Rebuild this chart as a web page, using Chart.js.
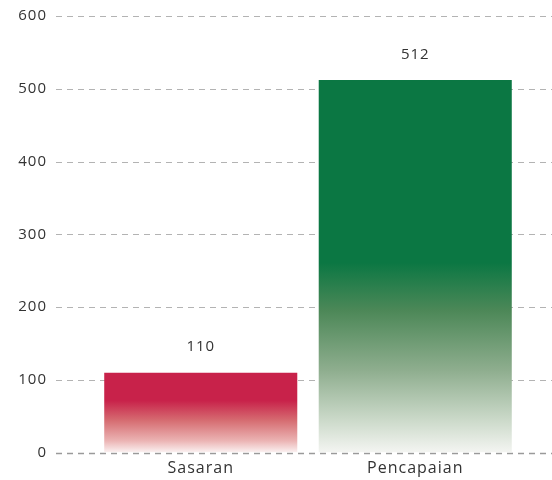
<!DOCTYPE html>
<html>
<head>
<meta charset="utf-8">
<script src="https://cdn.jsdelivr.net/npm/chart.js@4.4.0/dist/chart.umd.min.js"></script>
<style>
  html, body { margin: 0; padding: 0; background: #fff; overflow: hidden; }
  #wrap { position: relative; width: 552px; height: 480px; }
</style>
</head>
<body>
<div id="wrap"><canvas id="c"></canvas></div>
<script>
const categories = ["Sasaran", "Pencapaian"];
const values = [110, 512];
const yMin = 0, yMax = 600, yStep = 100;

const FONT = "'Open Sans', sans-serif";
const TEXT = "#333333";
const SPACING = "1px";

// gradient stop definitions (fraction from bar top to bar bottom)
const gradStops = [
  [[0, "#c8224a"], [0.35, "#c8224a"], [0.6, "#d66d72"], [0.85, "#ebb3b3"], [1, "#fbf3f3"]],
  [[0, "#0b7743"], [0.49, "#0b7743"], [0.62, "#4d8858"], [0.78, "#8fae8f"], [0.92, "#cfdccd"], [1, "#f4f5f2"]]
];

function barGradient(context) {
  const chart = context.chart;
  const ys = chart.scales.y;
  if (!ys || !chart.chartArea) return gradStops[context.dataIndex][0][1];
  const v = context.raw;
  const top = ys.getPixelForValue(v);
  const bottom = ys.getPixelForValue(0);
  const g = chart.ctx.createLinearGradient(0, top, 0, bottom);
  gradStops[context.dataIndex].forEach(s => g.addColorStop(s[0], s[1]));
  return g;
}

const spacingPlugin = {
  id: "spacing",
  beforeLayout(chart) { chart.ctx.letterSpacing = SPACING; },
  beforeDraw(chart) { chart.ctx.letterSpacing = SPACING; }
};

const gridPlugin = {
  id: "fullGrid",
  beforeDatasetsDraw(chart) {
    const ys = chart.scales.y;
    const ctx = chart.ctx;
    ctx.save();
    for (let v = yMin; v <= yMax; v += yStep) {
      const py = Math.round(ys.getPixelForValue(v)) + 0.5;
      ctx.beginPath();
      ctx.setLineDash([6, 5]);
      ctx.lineWidth = v === 0 ? 1.6 : 1;
      ctx.strokeStyle = v === 0 ? "#9a9a9a" : "#b3b3b3";
      ctx.moveTo(56, py);
      ctx.lineTo(chart.width, py);
      ctx.stroke();
    }
    ctx.restore();
  }
};

const valueLabelPlugin = {
  id: "valueLabels",
  afterDatasetsDraw(chart) {
    const ctx = chart.ctx;
    const meta = chart.getDatasetMeta(0);
    ctx.save();
    ctx.letterSpacing = SPACING;
    ctx.font = "15px " + FONT;
    ctx.fillStyle = TEXT;
    ctx.textAlign = "center";
    ctx.textBaseline = "middle";
    meta.data.forEach((bar, i) => {
      ctx.fillText(String(values[i]), bar.x, bar.y - 25.5);
    });
    ctx.restore();
  }
};

new Chart(document.getElementById("c"), {
  type: "bar",
  data: {
    labels: categories,
    datasets: [{
      data: values,
      backgroundColor: barGradient,
      borderWidth: 0,
      barPercentage: 0.9,
      categoryPercentage: 1.0
    }]
  },
  options: {
    responsive: true,
    maintainAspectRatio: false,
    animation: false,
    layout: { padding: { top: 16, right: 29.5, bottom: 0, left: 0 } },
    plugins: { legend: { display: false }, tooltip: { enabled: false } },
    scales: {
      x: {
        grid: { display: false, drawTicks: false },
        border: { display: false },
        ticks: { color: TEXT, font: { family: FONT, size: 16 }, padding: 6 },
        afterFit(scale) { scale.height = 27.3; }
      },
      y: {
        min: yMin, max: yMax,
        grid: { display: true, color: "transparent", drawTicks: true, tickLength: 43.5, tickColor: "transparent" },
        border: { display: false },
        ticks: { stepSize: yStep, color: TEXT, font: { family: FONT, size: 15 }, padding: 3 },
        afterFit(scale) { scale.width = 93.5; }
      }
    }
  },
  plugins: [spacingPlugin, gridPlugin, valueLabelPlugin]
});
</script>
</body>
</html>
